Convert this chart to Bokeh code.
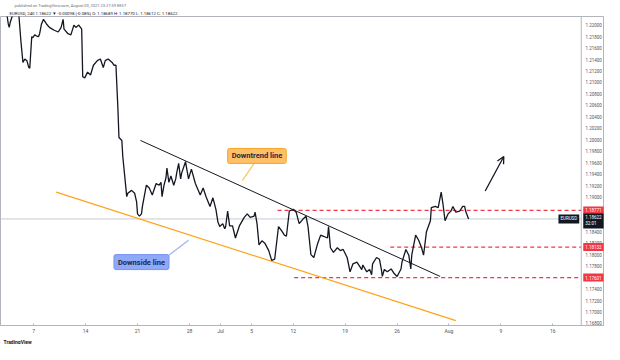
from bokeh.plotting import figure
from bokeh.models import (Range1d, Span, Label, Arrow, OpenHead, FixedTicker, Title,
                          SingleIntervalTicker, NumeralTickFormatter)
from bokeh.embed import file_html
from bokeh.resources import INLINE

# ---------------- data (trading days since Mon 7 Jun 2021, EURUSD 4h close) ----------------
day = [-2.64, -2.45, -2.36, -2.26, -2.08, -1.89, -1.60, -1.42, -1.23, -1.04,
       -0.85, -0.66, -0.47, -0.38, -0.19, -0.09, 0.09, 0.28, 0.47, 0.57,
       0.75, 0.94, 1.23, 1.51, 1.79, 1.98, 2.36, 2.64, 2.83, 2.92,
       3.30, 3.58, 3.87, 4.06, 4.34, 4.62, 4.72, 4.91, 5.19, 5.47,
       5.75, 6.13, 6.42, 6.70, 6.89, 7.17, 7.55, 7.74, 7.92, 8.11,
       8.21, 8.49, 8.58, 8.96, 9.06, 9.43, 9.72, 9.91, 10.00, 10.19,
       10.38, 10.47, 10.85, 11.13, 11.42, 11.79, 12.08, 12.26, 12.36, 12.55,
       12.74, 12.83, 13.02, 13.21, 13.49, 13.68, 13.77, 13.96, 14.15, 14.25,
       14.62, 14.91, 15.19, 15.57, 16.04, 16.32, 16.60, 16.98, 17.26, 17.55,
       17.74, 17.92, 18.21, 18.40, 18.49, 18.68, 18.87, 19.15, 19.43, 19.81,
       20.28, 20.57, 20.85, 21.23, 21.32, 21.51, 21.70, 21.98, 22.26, 22.64,
       22.92, 23.21, 23.58, 23.87, 24.15, 24.34, 24.62, 25.00, 25.28, 25.57,
       25.94, 26.23, 26.42, 26.70, 26.98, 27.36, 27.64, 27.92, 28.30, 28.40,
       28.58, 28.87, 29.25, 29.53, 29.81, 30.19, 30.47, 30.75, 31.13, 31.60,
       31.70, 32.08, 32.36, 32.55, 32.64, 33.02, 33.30, 33.49, 33.58, 33.77,
       34.06, 34.43, 34.72, 35.00, 35.38, 35.47, 35.85, 36.13, 36.32, 36.42,
       36.79, 37.08, 37.36, 37.55, 37.83, 38.21, 38.30, 38.68, 38.96, 39.25,
       39.43, 39.62, 39.91, 40.19, 40.38, 40.66, 41.04, 41.32, 41.51, 41.60,
       41.89]
close = [1.2225, 1.2202, 1.2196, 1.2205, 1.2215, 1.2228, 1.2225, 1.2215, 1.2171, 1.2135,
         1.2141, 1.2138, 1.2126, 1.2125, 1.2180, 1.2178, 1.2183, 1.2181, 1.2180, 1.2185,
         1.2202, 1.2210, 1.2202, 1.2196, 1.2193, 1.2191, 1.2188, 1.2196, 1.2210, 1.2193,
         1.2185, 1.2183, 1.2200, 1.2196, 1.2200, 1.2193, 1.2110, 1.2108, 1.2118, 1.2113,
         1.2130, 1.2138, 1.2141, 1.2126, 1.2138, 1.2141, 1.2135, 1.2130, 1.2130, 1.2054,
         1.2004, 1.1999, 1.1971, 1.1901, 1.1907, 1.1912, 1.1907, 1.1892, 1.1871, 1.1867,
         1.1871, 1.1884, 1.1921, 1.1916, 1.1904, 1.1924, 1.1921, 1.1926, 1.1901, 1.1921,
         1.1934, 1.1951, 1.1926, 1.1937, 1.1921, 1.1932, 1.1942, 1.1959, 1.1932, 1.1942,
         1.1962, 1.1932, 1.1949, 1.1924, 1.1904, 1.1916, 1.1901, 1.1884, 1.1899, 1.1879,
         1.1857, 1.1849, 1.1854, 1.1845, 1.1849, 1.1876, 1.1850, 1.1850, 1.1829, 1.1850,
         1.1865, 1.1871, 1.1865, 1.1867, 1.1874, 1.1854, 1.1817, 1.1824, 1.1820, 1.1807,
         1.1790, 1.1792, 1.1849, 1.1842, 1.1834, 1.1832, 1.1876, 1.1879, 1.1874, 1.1854,
         1.1862, 1.1867, 1.1849, 1.1800, 1.1795, 1.1820, 1.1834, 1.1832, 1.1829, 1.1849,
         1.1812, 1.1804, 1.1812, 1.1807, 1.1809, 1.1795, 1.1770, 1.1784, 1.1787, 1.1774,
         1.1782, 1.1770, 1.1774, 1.1765, 1.1784, 1.1795, 1.1792, 1.1774, 1.1762, 1.1774,
         1.1770, 1.1775, 1.1767, 1.1762, 1.1775, 1.1787, 1.1809, 1.1799, 1.1775, 1.1800,
         1.1834, 1.1825, 1.1812, 1.1799, 1.1840, 1.1859, 1.1882, 1.1884, 1.1882, 1.1909,
         1.1887, 1.1859, 1.1871, 1.1876, 1.1884, 1.1874, 1.1876, 1.1884, 1.1884, 1.1876,
         1.18622]

x_tick_days = [0, 5, 10, 15, 18, 21, 25, 30, 35, 40, 45, 50]
x_tick_labels = ["7", "14", "21", "28", "Jul", "5", "12", "19", "26", "Aug", "9", "16"]

downtrend_day = [10.28, 39.15]
downtrend_price = [1.1999, 1.1762]
downside_day = [2.17, 40.66]
downside_price = [1.1909, 1.1685]

levels = [1.18771, 1.18132, 1.17601]
level_start_day = [23.49, 34.34, 25.09]
last_price = 1.18622
last_countdown = "32:01"
symbol = "EURUSD"

arrow_day = [43.49, 45.28]
arrow_price = [1.1911, 1.1971]

downtrend_note = ("Downtrend line", 21.5, 1.1972)
downtrend_pointer_day = [20.09, 21.23]
downtrend_pointer_price = [1.1929, 1.1959]
downside_note = ("Downside line", 10.38, 1.1787)
downside_pointer_day = [13.02, 14.91]
downside_pointer_price = [1.1799, 1.1825]

header_1 = "published on TradingView.com, August 03, 2021 23:27:59 EEST"
header_2 = ("EURUSD, 240  1.18622 \u25bc -0.00098 (-0.08%)  O: 1.18689  H: 1.18770  "
            "L: 1.18612  C: 1.18622")
logo = "TradingView"

# view window: chart area up to the price-scale border, then the price-scale strip
X0, X_SCALE, X1 = -3.2, 52.74, 54.98
Y0, Y1 = 1.16765, 1.2215

FONT = "Roboto"
INK = "#131722"
AXIS_C = "#b2b5be"
RED = "#f23645"

p = figure(width=604, height=344, output_backend="svg", toolbar_location=None,
           x_range=Range1d(X0, X1), y_range=Range1d(Y0, Y1),
           y_axis_location="right",
           min_border_left=0, min_border_top=0, min_border_bottom=0, min_border_right=0)
p.title.visible = False
p.background_fill_color = "white"
p.border_fill_color = "white"
p.outline_line_color = AXIS_C
p.xgrid.grid_line_color = None
p.ygrid.grid_line_color = None

# header lines (added inner first)
p.add_layout(Title(text=header_2, align="left", offset=9, standoff=1, text_font=FONT,
                   text_font_size="4.3px", text_font_style="normal", text_color=INK), "above")
p.add_layout(Title(text=header_1, align="left", offset=14, standoff=1, text_font=FONT,
                   text_font_size="4px", text_font_style="normal", text_color="#6a6d78"), "above")

# price scale: labels drawn inside the strip at the right of the frame
ya = p.yaxis[0]
ya.ticker = SingleIntervalTicker(interval=0.002, num_minor_ticks=0)
ya.formatter = NumeralTickFormatter(format="0.00000")
ya.major_label_text_font = FONT
ya.major_label_text_font_size = "4.5px"
ya.major_label_text_color = "#50535e"
ya.axis_line_color = None
ya.major_tick_line_color = None
ya.major_tick_out = 0
ya.major_tick_in = 0
ya.minor_tick_line_color = None
ya.major_label_standoff = -19

xa = p.xaxis[0]
xa.ticker = FixedTicker(ticks=x_tick_days)
xa.major_label_overrides = {d: t for d, t in zip(x_tick_days, x_tick_labels)}
xa.major_label_text_font = FONT
xa.major_label_text_font_size = "5px"
xa.major_label_text_color = "#50535e"
xa.axis_line_color = AXIS_C
xa.major_tick_line_color = AXIS_C
xa.major_tick_out = 0
xa.major_tick_in = 2
xa.minor_tick_line_color = None
xa.major_label_standoff = 2

# logo line under the time scale
p.add_layout(Title(text=logo, align="left", offset=3, standoff=0, text_font=FONT,
                   text_font_size="5px", text_font_style="bold", text_color=INK), "below")

# price-scale border
p.add_layout(Span(location=X_SCALE, dimension="height", line_color=AXIS_C, line_width=1))

# current price line
p.segment(x0=[X0], y0=[last_price], x1=[X_SCALE], y1=[last_price],
          line_color="#c8cad0", line_width=1)

# horizontal levels
p.segment(x0=level_start_day, y0=levels, x1=[X_SCALE] * len(levels), y1=levels,
          line_color=RED, line_dash="4 3", line_width=1.2)

# trend lines
p.line(downside_day, downside_price, line_color="#ffa31a", line_width=1.2)
p.line(downtrend_day, downtrend_price, line_color=INK, line_width=1)

# price
p.line(day, close, line_color=INK, line_width=1.3)

# pointers
p.line(downtrend_pointer_day, downtrend_pointer_price, line_color="#ffc266", line_width=1.2)
p.line(downside_pointer_day, downside_pointer_price, line_color="#9db1f7", line_width=1.2)

# arrow
p.add_layout(Arrow(end=OpenHead(size=7, line_color=INK, line_width=1.3),
                   x_start=arrow_day[0], y_start=arrow_price[0],
                   x_end=arrow_day[1], y_end=arrow_price[1],
                   line_color=INK, line_width=1.3))

# note boxes
t, nx, ny = downtrend_note
p.add_layout(Label(x=nx, y=ny, text=t, text_align="center", text_baseline="middle",
                   text_font=FONT, text_font_size="7.5px", text_font_style="bold",
                   text_color="#1e2a44", background_fill_color="#ffbf66",
                   border_line_color="#f5a623", border_line_width=1, padding=(4, 3),
                   border_radius=2))
t, nx, ny = downside_note
p.add_layout(Label(x=nx, y=ny, text=t, text_align="center", text_baseline="middle",
                   text_font=FONT, text_font_size="7.5px", text_font_style="bold",
                   text_color="#1e2a44", background_fill_color="#8fa8f8",
                   border_line_color="#7893f0", border_line_width=1, padding=(4, 3),
                   border_radius=2))

# price-scale labels
for lv in levels:
    p.add_layout(Label(x=X_SCALE, y=lv, x_offset=2, text=f"{lv:.5f}", text_align="left",
                       text_baseline="middle", text_font=FONT, text_font_size="4.5px",
                       text_color="white", background_fill_color=RED, padding=2))
p.add_layout(Label(x=X_SCALE, y=last_price, x_offset=2, y_offset=-2,
                   text=f"{last_price:.5f}\n{last_countdown}",
                   text_align="left", text_baseline="middle", text_font=FONT,
                   text_font_size="4.5px", text_color="white", background_fill_color=INK, padding=2))
p.add_layout(Label(x=X_SCALE, y=last_price, x_offset=-2, text=symbol, text_align="right",
                   text_baseline="middle", text_font=FONT, text_font_size="4.5px",
                   text_color="white", background_fill_color=INK, padding=2))

open("out.html", "w").write(file_html(p, INLINE))
